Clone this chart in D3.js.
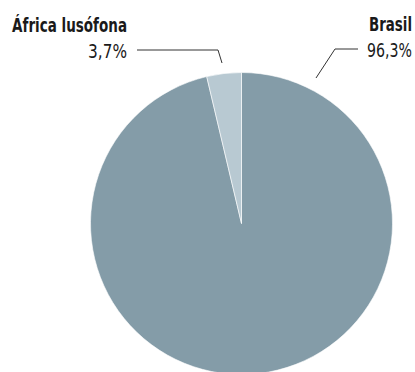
<!DOCTYPE html>
<html>
<head>
<meta charset="utf-8">
<script src="https://cdn.jsdelivr.net/npm/d3@7"></script>
<style>
  body { margin: 0; background: #fff; }
  svg { display: block; font-family: "DejaVu Sans Condensed", "DejaVu Sans", sans-serif; font-stretch: condensed; }
</style>
</head>
<body>
<div id="chart"></div>
<script>
// data
const regions = ["Brasil", "África lusófona"];
const shares = [96.3, 3.7];
const shareLabels = ["96,3%", "3,7%"];

const width = 415;
const height = 372;
const cx = 241.5, cy = 223.5, radius = 151;

const color = d3.scaleOrdinal(regions, ["#849ca8", "#b8c9d2"]);

const svg = d3.select("#chart").append("svg")
    .attr("width", width)
    .attr("height", height);

const pie = d3.pie().sort(null).value(d => d.value);
const arc = d3.arc().innerRadius(0).outerRadius(radius);

const data = regions.map((r, i) => ({ name: r, value: shares[i], label: shareLabels[i] }));
const arcs = pie(data);

const g = svg.append("g").attr("transform", `translate(${cx},${cy})`);

g.selectAll("path")
    .data(arcs)
    .join("path")
    .attr("d", arc)
    .attr("fill", d => color(d.data.name))
    .attr("stroke", "#fff")
    .attr("stroke-width", 0.6);

// label placement; the font here is wider than the condensed face of the original,
// so each text is scaled horizontally to the measured width
const labels = [
    { x: 412, nameY: 31, valY: 57, nameW: 43, valW: 45, line: [[358, 49], [335, 49], [316, 78]] },
    { x: 127, nameY: 32, valY: 58, nameW: 115, valW: 39, line: [[137, 50], [218, 50], [222, 63]] }
];

function squeezed(x, y, w, txt, weight) {
    const t = svg.append("text")
        .attr("text-anchor", "end")
        .attr("font-size", 20)
        .attr("font-weight", weight)
        .attr("fill", "#1a1a1a")
        .text(txt);
    const natural = t.node().getComputedTextLength();
    t.attr("transform", `translate(${x},${y}) scale(${w / natural},1)`);
}

arcs.forEach((d, i) => {
    const l = labels[i];
    svg.append("path")
        .attr("d", d3.line()(l.line))
        .attr("fill", "none")
        .attr("stroke", "#333")
        .attr("stroke-width", 1);
    squeezed(l.x, l.nameY, l.nameW, d.data.name, "bold");
    squeezed(l.x, l.valY, l.valW, d.data.label, "normal");
});
</script>
</body>
</html>
